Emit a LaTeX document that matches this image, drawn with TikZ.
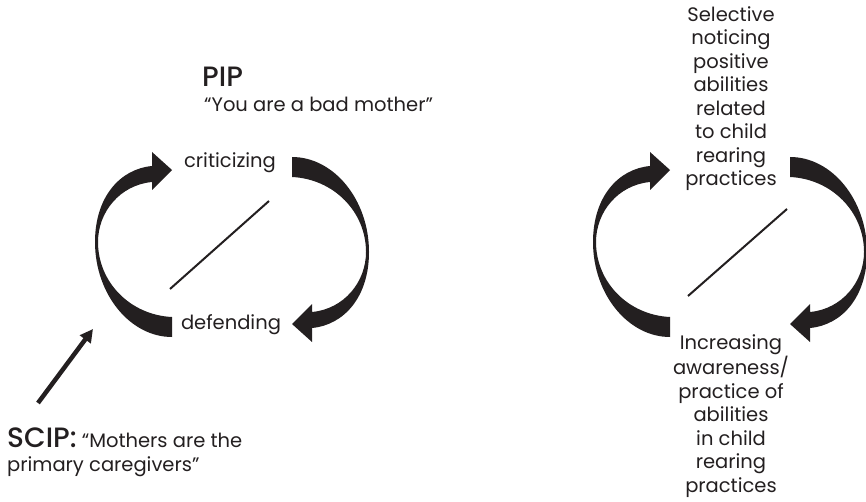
\documentclass[tikz,border=0pt]{standalone}
\usepackage{fontspec}
\setmainfont{Poppins}[BoldFont=* Medium]
\usetikzlibrary{arrows.meta}

\definecolor{ink}{HTML}{231F20}

\tikzset{
  label text/.style={font=\fontsize{19.5}{23.5}\selectfont, inner sep=0pt, text=ink},
  head text/.style={font=\fontsize{28}{32}\selectfont\bfseries, inner sep=0pt, text=ink},
  cycle arrow/.style={fill=ink, draw=none},
}

\begin{document}
\begin{tikzpicture}[x=1pt, y=-1pt]
\useasboundingbox (0,0) rectangle (866,502);

% Curved arrows of both loops (second half is the first turned by 180)
\foreach \cx in {232,730} {
  \foreach \r in {0,180} {
    \begin{scope}[shift={(\cx,247)}, rotate=\r]
      \fill[cycle arrow] (-60,90) .. controls (-102,90) and (-137,47) .. (-137,-5)
        .. controls (-137,-50) and (-112,-78) .. (-80,-81)
        -- (-80,-95) -- (-60,-77) -- (-80,-57) -- (-80,-65)
        .. controls (-112,-62) and (-134,-35) .. (-134,-5)
        .. controls (-134,35) and (-102,68) .. (-60,70) -- cycle;
    \end{scope}
  }
}

% Slashes inside the loops
\coordinate (la) at (170,289);
\coordinate (lb) at (269,201);
\coordinate (ra) at (688,296);
\coordinate (rb) at (787,209);
\draw[ink, line width=2pt] (la) -- (lb);
\draw[ink, line width=2pt] (ra) -- (rb);

% Left loop labels
\node[head text, anchor=base west] (pip) at (202,87) {PIP};
\node[label text, anchor=base west] (quote) at (204,112) {“You are a bad mother”};
\node[label text, anchor=base] (crit) at (230,168) {criticizing};
\node[label text, anchor=base] (def) at (231,329) {defending};

% Right loop labels (base is the last line)
\node[label text, anchor=base, align=center] (notice) at (731,186)
  {Selective\\noticing\\positive\\abilities\\related\\to child\\rearing\\practices};
\node[label text, anchor=base, align=center] (aware) at (731,492)
  {Increasing\\awareness/\\practice of\\abilities\\in child\\rearing\\practices};

% SCIP and its arrow
\node[label text, anchor=base west] (scip) at (7,447)
  {{\fontsize{28}{32}\selectfont\bfseries SCIP:} “Mothers are the};
\node[label text, anchor=base west] (scip2) at (7,471) {primary caregivers”};
\coordinate (sa) at (38,403);
\coordinate (sb) at (93,329);
\draw[ink, line width=4.5pt, -{Triangle[length=13pt,width=13pt]}] (sa) -- (sb);
\end{tikzpicture}
\end{document}
